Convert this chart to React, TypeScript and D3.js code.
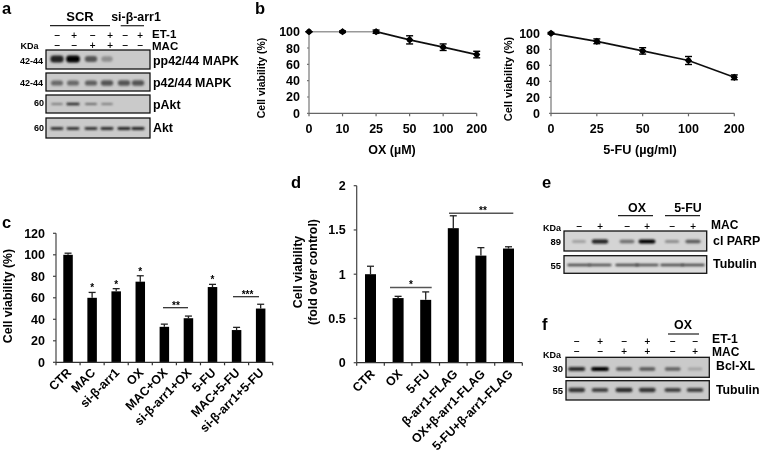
import React from 'react';
import * as d3 from 'd3';

const FONT = '"Liberation Sans", Arial, sans-serif';

// panel b
const oxDoses = ['0', '10', '25', '50', '100', '200'];
const oxViability = [100, 100, 100, 90, 81, 72];
const oxError = [0, 1, 2, 5, 4, 4];
const fuDoses = ['0', '25', '50', '100', '200'];
const fuViability = [100, 90, 78, 66, 45];
const fuError = [1, 3, 4, 5, 3];
const percentTicks = [0, 20, 40, 60, 80, 100];

// panel c
const cCategories = ['CTR', 'MAC', 'si-β-arr1', 'OX', 'MAC+OX', 'si-β-arr1+OX', '5-FU', 'MAC+5-FU', 'si-β-arr1+5-FU'];
const cValues = [100, 60, 66, 75, 33, 41, 70, 30, 50];
const cErrors = [1.5, 5, 2.5, 5.5, 2.5, 2, 2.5, 2.5, 4];
const cStars = ['', '*', '*', '*', '', '', '*', '', ''];
const cTicks = [0, 20, 40, 60, 80, 100, 120];

// panel d
const dCategories = ['CTR', 'OX', '5-FU', 'β-arr1-FLAG', 'OX+β-arr1-FLAG', '5-FU+β-arr1-FLAG'];
const dValues = [1, 0.73, 0.71, 1.52, 1.21, 1.29];
const dErrors = [0.09, 0.02, 0.09, 0.14, 0.09, 0.02];
const dTicks = [0, 0.5, 1, 1.5, 2];

// blots: relative band intensity per lane
const ppMapk = [0.85, 1, 0.6, 0.3, 0, 0];
const pMapk = [0.5, 0.5, 0.55, 0.6, 0.6, 0.6];
const pAkt = [0.4, 0.85, 0.5, 0.4, 0, 0];
const akt = [0.75, 0.75, 0.75, 0.8, 0.85, 0.85];
const clParp = [0.25, 0.9, 0.5, 1, 0.35, 0.6];
const tubulinE = [0.7, 0.65, 0.7, 0.65, 0.7, 0.7];
const bclXl = [0.8, 1, 0.6, 0.6, 0.55, 0.2];
const tubulinF = [0.75, 0.7, 0.8, 0.75, 0.7, 0.7];
const et1A = ['−', '+', '−', '+', '−', '+'];
const macA = ['−', '−', '+', '+', '−', '−'];
const macE = ['−', '+', '−', '+', '−', '+'];
const et1F = ['−', '+', '−', '+', '−', '−'];
const macF = ['−', '−', '+', '+', '−', '+'];
const laneIds = [0, 1, 2, 3, 4, 5];

const T = ({ x, y, s = 12, a = 'start', w = 'bold', r, c = '#000', children }: any) => (
  <text x={x} y={y} fontSize={s} textAnchor={a} fontWeight={w} fill={c} fontFamily={FONT}
    transform={r !== undefined ? `rotate(${r} ${x} ${y})` : undefined}>{children}</text>
);

const Line = ({ x1, x2, y1, y2, c = '#222', w = 1.2 }: any) => (
  <line x1={x1} x2={x2} y1={y1} y2={y2} stroke={c} strokeWidth={w} />
);

function DoseCurve({ doses, values, errors, x0, x1, yTop, yBottom, xLabel, labelX, titleX, titleY, titleS, labelS, tickGap, greySegs }: any) {
  const x = d3.scalePoint<string>().domain(doses).range([x0, x1]);
  const y = d3.scaleLinear().domain([0, 100]).range([yBottom, yTop]);
  const pts = doses.map((d: string, i: number) => [x(d)!, y(values[i])] as [number, number]);
  const path = d3.line();
  const marker = d3.symbol().type(d3.symbolSquare).size(26)()!;
  const marker2 = d3.symbol().type(d3.symbolCircle).size(24)()!;
  return (
    <g>
      <Line x1={x0} x2={x0} y1={yTop} y2={yBottom} c="#8a8a8a" w={1.4} />
      <Line x1={x0} x2={x1} y1={yBottom} y2={yBottom} c="#666" w={1.3} />
      {percentTicks.map(t => (
        <g key={t}>
          <Line x1={x0 - 2} x2={x0} y1={y(t)} y2={y(t)} c="#777" />
          <T x={x0 - tickGap} y={y(t) + 4.5} a="end" s={12.5}>{t}</T>
        </g>
      ))}
      {doses.map((d: string) => (
        <g key={d}>
          <Line x1={x(d)} x2={x(d)} y1={yBottom} y2={yBottom + 3} c="#666" />
          <T x={x(d)} y={yBottom + 20} a="middle" s={12.5}>{d}</T>
        </g>
      ))}
      {greySegs > 0 && <path d={path(pts.slice(0, greySegs + 1))!} fill="none" stroke="#999" strokeWidth={1.4} />}
      <path d={path(pts.slice(greySegs))!} fill="none" stroke="#111" strokeWidth={1.7} />
      {pts.map((p: [number, number], i: number) => (
        <g key={i}>
          <line x1={p[0]} x2={p[0]} y1={y(values[i] + errors[i])} y2={y(values[i] - errors[i])} stroke="#000" strokeWidth={1.5} />
          <line x1={p[0] - 3.5} x2={p[0] + 3.5} y1={y(values[i] + errors[i])} y2={y(values[i] + errors[i])} stroke="#000" strokeWidth={1.4} />
          <line x1={p[0] - 3.5} x2={p[0] + 3.5} y1={y(values[i] - errors[i])} y2={y(values[i] - errors[i])} stroke="#000" strokeWidth={1.4} />
          <path d={marker} transform={`translate(${p[0]},${p[1]}) rotate(45)`} fill="#000" />
          <path d={marker2} transform={`translate(${p[0]},${p[1]})`} fill="#000" />
        </g>
      ))}
      <T x={labelX} y={yBottom + 41} a="middle" s={labelS}>{xLabel}</T>
      <T x={titleX} y={titleY} a="middle" s={titleS} r={-90}>Cell viability (%)</T>
    </g>
  );
}

function BarPanel({ cats, values, errors, ticks, domainMax, xLeft, xRight, yTop, yBottom, barW, labelDx, labelDy, labelSize }: any) {
  const x = d3.scaleBand<string>().domain(cats).range([xLeft, xRight]);
  const y = d3.scaleLinear().domain([0, domainMax]).range([yBottom, yTop]);
  const edges = [...cats.map((c: string) => x(c)!), xRight];
  return (
    <g>
      {cats.map((c: string, i: number) => {
        const cx = x(c)! + x.bandwidth() / 2;
        const e = y(values[i] + errors[i]);
        return (
          <g key={c}>
            <Line x1={cx} x2={cx} y1={e} y2={y(values[i])} c="#222" w={1.3} />
            <Line x1={cx - 3.5} x2={cx + 3.5} y1={e} y2={e} c="#222" w={1.3} />
            <rect x={cx - barW / 2} y={y(values[i])} width={barW} height={yBottom - y(values[i])} fill="#000" />
            <T x={cx + labelDx} y={yBottom + labelDy} a="end" s={labelSize} r={-45}>{c}</T>
          </g>
        );
      })}
      <Line x1={xLeft} x2={xLeft} y1={yTop} y2={yBottom} c="#444" />
      <Line x1={xLeft} x2={xRight} y1={yBottom} y2={yBottom} c="#333" />
      {edges.map((e: number) => <Line key={e} x1={e} x2={e} y1={yBottom} y2={yBottom + 3} c="#333" />)}
      {ticks.map((t: number) => (
        <g key={t}>
          <Line x1={xLeft - 3} x2={xLeft} y1={y(t)} y2={y(t)} c="#444" />
          <T x={xLeft - 11} y={y(t) + 4.5} a="end" s={12.5}>{t}</T>
        </g>
      ))}
    </g>
  );
}

function Blot({ x0, x1, y0, y1, lanes, intensities, bandH, bandW, bg = '#cacaca', bandY }: any) {
  const lane = d3.scaleOrdinal<number, number>().domain(laneIds).range(lanes);
  const dark = d3.scaleLinear<string>().domain([0, 1]).range([bg, '#050505']);
  return (
    <g>
      <rect x={x0} y={y0} width={x1 - x0} height={y1 - y0} fill={bg} stroke="#111" strokeWidth={1.3} />
      {laneIds.map(i => {
        if (intensities[i] <= 0) return null;
        const w = bandW * (0.8 + intensities[i] * 0.25);
        const h = bandH * (0.75 + intensities[i] * 0.35);
        return (
          <rect key={i} x={lane(i) - w / 2} y={bandY - h / 2} width={w} height={h} rx={Math.min(h / 2, 3)}
            fill={dark(intensities[i])} filter="url(#bandBlur)" />
        );
      })}
    </g>
  );
}

function Signs({ lanes, signs, y }: any) {
  return signs.map((s: string, i: number) => (
    <text key={i} x={lanes[i]} y={y} textAnchor="middle" fontSize={8} fontWeight="bold" fill="#000" fontFamily='"DejaVu Sans", sans-serif'>{s}</text>
  ));
}

const lanesATop = [57, 74, 92.7, 110, 125, 140];
const lanesA = [57, 73, 91, 107, 124, 138];
const lanesE = [579, 600, 627, 647, 672, 693];
const lanesF = [576.7, 600, 624, 647.3, 672.7, 695];

export default function App() {
  const yC = d3.scaleLinear().domain([0, 120]).range([362.3, 233.3]);
  const xC = d3.scaleBand<string>().domain(cCategories).range([56, 272.7]);
  const yD = d3.scaleLinear().domain([0, 2]).range([362.7, 185.7]);
  return (
    <svg width={762} height={457} style={{ position: 'absolute', left: 0, top: 0, background: '#fff' }}>
      <defs>
        <filter id="bandBlur" x="-30%" y="-80%" width="160%" height="260%"><feGaussianBlur stdDeviation="0.8" /></filter>
        <filter id="soft" x="0" y="0" width="100%" height="100%"><feGaussianBlur stdDeviation="0.45" /></filter>
      </defs>
      <rect width={762} height={457} fill="#fff" />
      <g filter="url(#soft)">
        {/* panel letters */}
        <T x={2} y={13.5} s={16.5}>a</T>
        <T x={255} y={14} s={16.5}>b</T>
        <T x={2} y={228} s={16.5}>c</T>
        <T x={291} y={188} s={16.5}>d</T>
        <T x={542} y={188} s={16.5}>e</T>
        <T x={542} y={330} s={16.5}>f</T>

        {/* panel a */}
        <T x={80} y={21} a="middle" s={13}>SCR</T>
        <T x={136} y={21} a="middle" s={12.4}>si-β-arr1</T>
        <Line x1={50} x2={110} y1={25.7} y2={25.7} />
        <Line x1={120.7} x2={144} y1={25.7} y2={25.7} />
        <Signs lanes={lanesATop} signs={et1A} y={38.3} />
        <Signs lanes={lanesATop} signs={macA} y={47.8} />
        <T x={152} y={37.5} s={11.5}>ET-1</T>
        <T x={152} y={50} s={11.5}>MAC</T>
        <T x={20.5} y={49} s={9}>KDa</T>
        <Blot x0={46} x1={150} y0={50} y1={69} lanes={lanesA} intensities={ppMapk} bandH={6.5} bandW={13} bandY={59} />
        <Blot x0={46} x1={150} y0={73} y1={91} lanes={lanesA} intensities={pMapk} bandH={5.5} bandW={13} bandY={83} />
        <Blot x0={46} x1={150} y0={95} y1={113} lanes={lanesA} intensities={pAkt} bandH={2.4} bandW={13} bandY={104} />
        <Blot x0={46} x1={150} y0={118} y1={138} lanes={lanesA} intensities={akt} bandH={2.8} bandW={13} bandY={128.5} />
        <T x={153} y={64.5} s={12.4}>pp42/44 MAPK</T>
        <T x={153} y={86.5} s={12.4}>p42/44 MAPK</T>
        <T x={153} y={109} s={12.4}>pAkt</T>
        <T x={153} y={132} s={12.4}>Akt</T>
        <T x={43} y={64} a="end" s={9}>42-44</T>
        <T x={43} y={86} a="end" s={9}>42-44</T>
        <T x={44} y={106} a="end" s={9}>60</T>
        <T x={44} y={131} a="end" s={9}>60</T>

        {/* panel b */}
        <DoseCurve doses={oxDoses} values={oxViability} errors={oxError} x0={309} x1={476.7} yTop={31.7} yBottom={113.3}
          xLabel="OX (µM)" labelX={392} titleX={265} titleY={78} titleS={10.5} labelS={12.5} tickGap={9} greySegs={2} />
        <DoseCurve doses={fuDoses} values={fuViability} errors={fuError} x0={551} x1={734.3} yTop={33.3} yBottom={113.3}
          xLabel="5-FU (µg/ml)" labelX={640} titleX={511.5} titleY={79} titleS={11} labelS={12.7} tickGap={11} greySegs={0} />

        {/* panel c */}
        <BarPanel cats={cCategories} values={cValues} errors={cErrors} ticks={cTicks} domainMax={120}
          xLeft={56} xRight={272.7} yTop={233.3} yBottom={362.3} barW={9.5} labelDx={4} labelDy={11} labelSize={12.4} />
        <T x={12} y={296} a="middle" s={12.3} r={-90}>Cell viability (%)</T>
        {cCategories.map((c, i) => cStars[i] && (
          <T key={c} x={xC(c)! + xC.bandwidth() / 2} y={yC(cValues[i] + cErrors[i]) - 1} a="middle" s={10}>{cStars[i]}</T>
        ))}
        <Line x1={163} x2={188} y1={307.7} y2={307.7} />
        <T x={176} y={309} a="middle" s={10}>**</T>
        <Line x1={233} x2={259} y1={296.7} y2={296.7} />
        <T x={247.5} y={298} a="middle" s={10}>***</T>

        {/* panel d */}
        <BarPanel cats={dCategories} values={dValues} errors={dErrors} ticks={dTicks} domainMax={2}
          xLeft={356.7} xRight={522.3} yTop={185.7} yBottom={362.7} barW={11} labelDx={5} labelDy={12} labelSize={12.4} />
        <T x={301.5} y={272} a="middle" s={12.4} r={-90}>Cell viability</T>
        <T x={316.5} y={272} a="middle" s={12.4} r={-90}>(fold over control)</T>
        <Line x1={390} x2={431.7} y1={yD(0.85)} y2={yD(0.85)} c="#555" w={1.5} />
        <T x={411} y={yD(0.85) + 0.5} a="middle" s={10}>*</T>
        <Line x1={449} x2={513.3} y1={yD(1.69)} y2={yD(1.69)} c="#555" w={1.5} />
        <T x={483} y={yD(1.69) + 1} a="middle" s={10}>**</T>

        {/* panel e */}
        <T x={637} y={212} a="middle" s={12.4}>OX</T>
        <T x={688} y={212} a="middle" s={12.4}>5-FU</T>
        <Line x1={618} x2={653} y1={215.7} y2={215.7} />
        <Line x1={665} x2={700} y1={215.7} y2={215.7} />
        <Signs lanes={lanesE} signs={macE} y={228.5} />
        <T x={711} y={229} s={12}>MAC</T>
        <T x={543} y={231} s={9}>KDa</T>
        <Blot x0={564} x1={706.7} y0={231} y1={251} lanes={lanesE} intensities={clParp} bandH={3.6} bandW={16} bandY={241.5} bg="#d4d4d4" />
        <Blot x0={564} x1={706.7} y0={255.7} y1={273.3} lanes={lanesE} intensities={tubulinE} bandH={2.6} bandW={24} bandY={265} bg="#dcdcdc" />
        <T x={713} y={245} s={12.4}>cl PARP</T>
        <T x={713} y={268} s={12.4}>Tubulin</T>
        <T x={561} y={245} a="end" s={9.5}>89</T>
        <T x={561} y={269} a="end" s={9.5}>55</T>

        {/* panel f */}
        <T x={683} y={329} a="middle" s={12.4}>OX</T>
        <Line x1={668} x2={699} y1={334} y2={334} />
        <Signs lanes={lanesF} signs={et1F} y={344.2} />
        <Signs lanes={lanesF} signs={macF} y={353.7} />
        <T x={712} y={343} s={12.2}>ET-1</T>
        <T x={712} y={355.5} s={12}>MAC</T>
        <T x={543} y={358} s={9}>KDa</T>
        <Blot x0={566} x1={709.3} y0={357.3} y1={377.3} lanes={lanesF} intensities={bclXl} bandH={3.8} bandW={17} bandY={369} />
        <Blot x0={566} x1={709.3} y0={380.7} y1={400} lanes={lanesF} intensities={tubulinF} bandH={4.2} bandW={17} bandY={390} />
        <T x={716} y={370} s={12.3}>Bcl-XL</T>
        <T x={716} y={394} s={12.3}>Tubulin</T>
        <T x={563} y={372} a="end" s={9.5}>30</T>
        <T x={563} y={394} a="end" s={9.5}>55</T>
      </g>
    </svg>
  );
}
